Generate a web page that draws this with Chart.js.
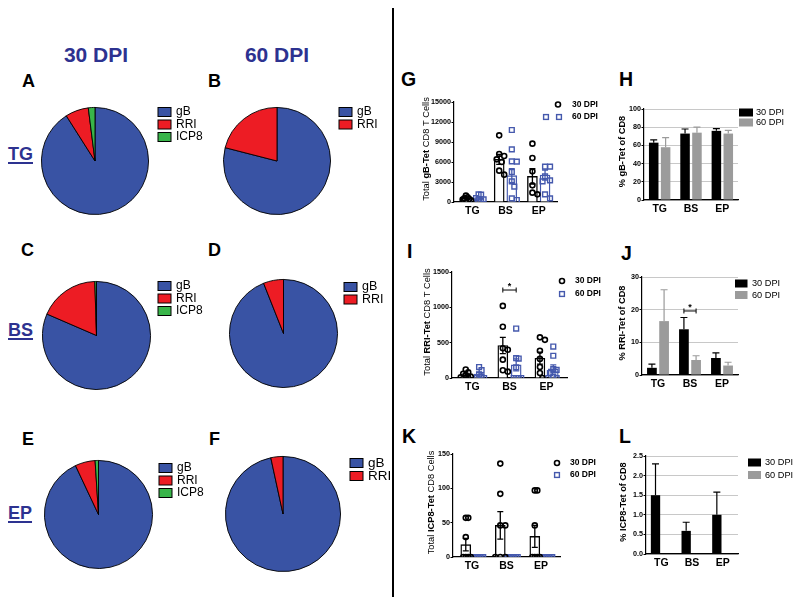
<!DOCTYPE html>
<html lang="en">
<head>
  <meta charset="UTF-8">
  <title>Tetramer+ CD8 T cells by site</title>
  <script src="https://cdn.jsdelivr.net/npm/chart.js"></script>
  <style>
    html, body { margin: 0; padding: 0; overflow: hidden; }
    body {
      position: relative;
      width: 800px;
      height: 606px;
      background: #fff;
      font-family: "Liberation Sans", Arial, sans-serif;
    }
    canvas { position: absolute; }
    .txt { position: absolute; font-weight: bold; line-height: 1; white-space: nowrap; color: #000; }
    .dpi { font-size: 21px; color: #2d3290; width: 100px; text-align: center; }
    .pl { font-size: 18px; }
    .ql { font-size: 19.5px; }
    .site {
      font-size: 18px;
      color: #2d3290;
      text-decoration: underline;
      text-decoration-thickness: 2px;
      text-underline-offset: 2px;
    }
    .divider { position: absolute; left: 392px; top: 8px; width: 2px; height: 589px; background: #000; }
  </style>
</head>
<body>
  <div class="divider"></div>

  <div class="txt dpi" style="left:46px; top:44px;">30 DPI</div>
  <div class="txt dpi" style="left:227px; top:44px;">60 DPI</div>

  <div class="txt pl" style="left:22px; top:72px;">A</div>
  <div class="txt pl" style="left:208px; top:72px;">B</div>
  <div class="txt pl" style="left:21px; top:241px;">C</div>
  <div class="txt pl" style="left:208px; top:241px;">D</div>
  <div class="txt pl" style="left:22px; top:430px;">E</div>
  <div class="txt pl" style="left:209px; top:430px;">F</div>

  <div class="txt site" style="left:8px; top:145px;">TG</div>
  <div class="txt site" style="left:8px; top:321px;">BS</div>
  <div class="txt site" style="left:8px; top:504px;">EP</div>

  <div class="txt ql" style="left:401px; top:70px;">G</div>
  <div class="txt ql" style="left:619px; top:70px;">H</div>
  <div class="txt ql" style="left:407px; top:242px;">I</div>
  <div class="txt ql" style="left:621px; top:244px;">J</div>
  <div class="txt ql" style="left:402px; top:427px;">K</div>
  <div class="txt ql" style="left:619px; top:427px;">L</div>

  <script>
    const FONT = '"Liberation Sans", Arial, Helvetica, sans-serif';

    const sites = ['TG', 'BS', 'EP'];
    const series = ['30 DPI', '60 DPI'];
    const epitopes3 = ['gB', 'RRI', 'ICP8'];
    const epitopes2 = ['gB', 'RRI'];

    // A-F: share of tetramer+ CD8 (%)
    const pieTG30 = [91, 7, 2];
    const pieTG60 = [79, 21];
    const pieBS30 = [81.5, 18, 0.5];
    const pieBS60 = [94, 6];
    const pieEP30 = [93, 6, 1];
    const pieEP60 = [96.6, 3.4];

    // G: total gB-Tet CD8 T cells, one list per site (TG, BS, EP)
    const gbDots30 = [[950, 700, 550, 450, 350, 250], [10000, 7200, 6900, 6400, 6000, 4700, 4100], [8750, 6600, 4600, 2500, 1400, 1150]];
    const gbDots60 = [[1150, 1100, 600, 400, 250, 150, 100], [10800, 7900, 6100, 6050, 4500, 3100, 2300, 550, 300], [5300, 5300, 3850, 3250, 3100, 1150, 550]];
    const gbMean30 = [600, 6400, 3850];
    const gbSem30 = [130, 750, 1150];
    const gbMean60 = [480, 3950, 4050];
    const gbSem60 = [160, 1050, 750];

    // I: total RRI-Tet CD8 T cells
    const rriDots30 = [[120, 80, 60, 40, 20, 10, 0], [1020, 725, 420, 400, 260, 110, 90], [575, 540, 385, 270, 155, 70, 0]];
    const rriDots60 = [[155, 110, 50, 25, 0, 0], [700, 280, 275, 150, 0, 0, 0, 0], [445, 315, 125, 115, 70, 20, 0, 0]];
    const rriMean30 = [50, 460, 280];
    const rriSem30 = [15, 115, 85];
    const rriMean60 = [55, 185, 130];
    const rriSem60 = [25, 85, 55];

    // K: total ICP8-Tet CD8 cells
    const icpDots30 = [[57, 57, 29, 0, 0, 0, 0], [136, 92, 46, 46, 0, 0, 0], [97, 97, 46, 0, 0, 0, 0]];
    const icpDots60 = [[0, 0, 0, 0, 0, 0, 0], [0, 0, 0, 0, 0, 0, 0], [0, 0, 0, 0, 0, 0, 0]];
    const icpMean30 = [18, 46, 30];
    const icpSem30 = [9, 20, 16];
    const icpMean60 = [0, 0, 0];
    const icpSem60 = [0, 0, 0];

    // H, J, L: % tetramer+ of CD8
    const gbPct30 = [63, 73, 76];
    const gbPctSem30 = [3, 5, 2.5];
    const gbPct60 = [58, 74, 73];
    const gbPctSem60 = [10.5, 6, 3.5];

    const rriPct30 = [2.2, 14, 5.2];
    const rriPctSem30 = [1.1, 3.6, 1.6];
    const rriPct60 = [16.5, 4.6, 2.9];
    const rriPctSem60 = [9.6, 1.3, 1.0];

    const icpPct30 = [1.5, 0.59, 1.0];
    const icpPctSem30 = [0.8, 0.22, 0.58];
    const icpPct60 = [0, 0, 0];
    const icpPctSem60 = [0, 0, 0];

    const PIE_COLORS = ['#3953a4', '#ed1c24', '#39b54a'];
    const DOT_BLUE = '#4559ad';
    const GRAY = '#9b9b9b';

    Chart.defaults.font.family = FONT;

    // legend drawn at page coordinates
    const markLegend = {
      id: 'markLegend',
      afterDraw(chart, args, opts) {
        const items = opts.items || [];
        if (!items.length) return;
        const ctx = chart.ctx;
        const ox = chart.canvas.offsetLeft, oy = chart.canvas.offsetTop;
        ctx.save();
        ctx.font = opts.font;
        ctx.textBaseline = 'middle';
        items.forEach(it => {
          const y = it.y - oy;
          it.xs.forEach(px => {
            const x = px - ox;
            ctx.lineWidth = it.lineWidth || 1;
            ctx.strokeStyle = it.stroke || it.color;
            ctx.fillStyle = it.color;
            if (it.marker === 'circle') {
              ctx.beginPath();
              ctx.arc(x, y, it.size, 0, 2 * Math.PI);
              ctx.stroke();
            } else if (it.marker === 'square') {
              ctx.strokeRect(x - it.size, y - it.size, it.size * 2, it.size * 2);
            } else {
              ctx.fillRect(x, y - it.h / 2, it.w, it.h);
              if (it.stroke) ctx.strokeRect(x, y - it.h / 2, it.w, it.h);
            }
          });
          ctx.fillStyle = '#000';
          ctx.fillText(it.label, opts.textX - ox, y);
        });
        ctx.restore();
      }
    };

    const errorBars = {
      id: 'errorBars',
      afterDatasetsDraw(chart, args, opts) {
        if (!opts.sets) return;
        const ctx = chart.ctx, ys = chart.scales.y;
        ctx.save();
        ctx.lineWidth = opts.lineWidth || 1.2;
        opts.sets.forEach(s => {
          const meta = chart.getDatasetMeta(s.ds);
          ctx.strokeStyle = s.color;
          meta.data.forEach((el, i) => {
            const v = meta.controller.getParsed(i).y, e = s.sem[i];
            if (!e) return;
            const top = ys.getPixelForValue(v + e);
            const bot = s.both ? ys.getPixelForValue(Math.max(0, v - e)) : el.y;
            ctx.beginPath();
            ctx.moveTo(el.x, bot);
            ctx.lineTo(el.x, top);
            ctx.moveTo(el.x - opts.cap, top);
            ctx.lineTo(el.x + opts.cap, top);
            if (s.both) {
              ctx.moveTo(el.x - opts.cap, bot);
              ctx.lineTo(el.x + opts.cap, bot);
            }
            ctx.stroke();
          });
        });
        ctx.restore();
      }
    };

    const sigBracket = {
      id: 'sigBracket',
      afterDatasetsDraw(chart, args, opts) {
        if (!opts.label) return;
        const ctx = chart.ctx;
        const x0 = chart.getDatasetMeta(opts.a).data[opts.index].x;
        const x1 = chart.getDatasetMeta(opts.b).data[opts.index].x;
        const y = chart.scales.y.getPixelForValue(opts.value);
        ctx.save();
        ctx.strokeStyle = '#000';
        ctx.lineWidth = 1;
        ctx.beginPath();
        ctx.moveTo(x0, y); ctx.lineTo(x1, y);
        ctx.moveTo(x0, y - 2.5); ctx.lineTo(x0, y + 2.5);
        ctx.moveTo(x1, y - 2.5); ctx.lineTo(x1, y + 2.5);
        ctx.stroke();
        ctx.fillStyle = '#000';
        ctx.font = 'bold 9px ' + FONT;
        ctx.textAlign = 'center';
        ctx.fillText(opts.label, (x0 + x1) / 2, y - 1);
        ctx.restore();
      }
    };

    // rotated y title with mixed weights
    const yTitle = {
      id: 'yTitle',
      afterDraw(chart, args, opts) {
        if (!opts.parts) return;
        const { ctx, chartArea: a } = chart;
        ctx.save();
        ctx.translate(a.left + opts.dx, (a.top + a.bottom) / 2 + (opts.dy || 0));
        ctx.rotate(-Math.PI / 2);
        ctx.textBaseline = 'middle';
        ctx.fillStyle = '#000';
        const fonts = opts.parts.map(p => (p[1] ? 'bold ' : '') + opts.size + 'px ' + FONT);
        const widths = opts.parts.map((p, i) => { ctx.font = fonts[i]; return ctx.measureText(p[0]).width; });
        let x = -widths.reduce((s, w) => s + w, 0) / 2;
        opts.parts.forEach((p, i) => {
          ctx.font = fonts[i];
          ctx.fillText(p[0], x, 0);
          x += widths[i];
        });
        ctx.restore();
      }
    };

    Chart.register(markLegend, errorBars, sigBracket, yTitle);

    function pie(p) {
      const R = p.r + 1;
      const c = document.createElement('canvas');
      c.width = 2 * R + 100;
      c.height = 2 * R + 10;
      c.style.left = Math.round(p.cx - R) + 'px';
      c.style.top = Math.round(p.cy - R - 10) + 'px';
      document.body.appendChild(c);
      new Chart(c, {
        type: 'pie',
        data: {
          labels: p.labels,
          datasets: [{
            data: p.values,
            backgroundColor: PIE_COLORS.slice(0, p.values.length),
            borderColor: '#000',
            borderWidth: 0.9
          }]
        },
        options: {
          responsive: false,
          animation: false,
          events: [],
          layout: { padding: { right: 100, top: 10 } },
          plugins: {
            legend: { display: false },
            tooltip: { enabled: false },
            markLegend: {
              font: p.font + 'px ' + FONT,
              textX: p.lx + 18,
              items: p.labels.map((l, i) => ({
                label: l, marker: 'box', color: PIE_COLORS[i], stroke: '#000',
                w: 13, h: 9, xs: [p.lx], y: p.ly + i * p.gap
              }))
            }
          }
        }
      });
    }

    pie({ values: pieTG30, labels: epitopes3, cx: 95, cy: 161, r: 53, lx: 158, ly: 112, gap: 12.5, font: 12 });
    pie({ values: pieTG60, labels: epitopes2, cx: 277, cy: 161, r: 53, lx: 339, ly: 112, gap: 12.5, font: 12 });
    pie({ values: pieBS30, labels: epitopes3, cx: 96, cy: 335, r: 53.5, lx: 158, ly: 286, gap: 12.5, font: 12 });
    pie({ values: pieBS60, labels: epitopes2, cx: 283, cy: 333, r: 53.5, lx: 344, ly: 287, gap: 12.5, font: 12.5 });
    pie({ values: pieEP30, labels: epitopes3, cx: 98, cy: 514, r: 53.5, lx: 159, ly: 468, gap: 12.5, font: 12 });
    pie({ values: pieEP60, labels: epitopes2, cx: 283, cy: 514, r: 57, lx: 350, ly: 463, gap: 13, font: 13.5 });

    const PAD = { l: 70, t: 25, r: 75, b: 30 };
    const Y_W = 30, X_H = 16;

    function place(box) {
      const c = document.createElement('canvas');
      c.width = box.r - box.l + PAD.l + PAD.r;
      c.height = box.b - box.t + PAD.t + PAD.b;
      c.style.left = (box.l - PAD.l) + 'px';
      c.style.top = (box.t - PAD.t) + 'px';
      document.body.appendChild(c);
      return c;
    }

    const layoutPad = { left: PAD.l - Y_W, top: PAD.t, right: PAD.r, bottom: PAD.b - X_H };

    function yAxis(max, step, fmt, grid) {
      return {
        min: 0,
        max: max,
        afterFit: s => { s.width = Y_W; },
        border: { color: '#000', width: 1.2 },
        grid: { drawOnChartArea: grid, color: '#c8c8c8', tickColor: '#000', tickLength: 2.5, lineWidth: 1 },
        ticks: { stepSize: step, color: '#000', padding: 0.5, font: { size: 7.2, weight: 'bold' }, callback: fmt }
      };
    }

    const xTicks = { color: '#000', padding: 3, maxRotation: 0, autoSkip: false, font: { size: 10.5, weight: 'bold' } };

    // simple beeswarm: horizontal pixel offsets for points at pixel heights pys
    function swarm(pys, dot, maxOff) {
      const placed = [];
      const offs = pys.map(py => {
        for (let k = 0; ; k++) {
          const dx = (k % 2 ? 1 : -1) * Math.ceil(k / 2) * dot * 0.5;
          if (placed.every(q => Math.hypot(q.dx - dx, q.py - py) >= dot)) {
            placed.push({ dx, py });
            return dx;
          }
        }
      });
      const m = Math.max(...offs.map(Math.abs));
      return m > maxOff ? offs.map(o => o * maxOff / m) : offs;
    }

    function dotPanel(p) {
      const b = p.box, xMin = -0.55, xMax = 2.55;
      const pxX = (b.r - b.l) / (xMax - xMin), pxY = (b.b - b.t) / p.yMax;
      const spread = (lists, shift) => lists.flatMap((vals, i) =>
        swarm(vals.map(v => v * pxY), 5.5, 5).map((dx, k) => ({ x: i + shift + dx / pxX, y: vals[k] })));
      const bars = (means, shift) => means.map((m, i) => ({ x: i + shift, y: m }));

      new Chart(place(b), {
        type: 'bar',
        data: {
          datasets: [
            { label: series[0], data: bars(p.mean30, -p.off), backgroundColor: '#fff', borderColor: '#000',
              borderWidth: 1.4, barThickness: 10, grouped: false, order: 3 },
            { label: series[1], data: bars(p.mean60, p.off), backgroundColor: '#fff', borderColor: DOT_BLUE,
              borderWidth: 1.4, barThickness: 10, grouped: false, order: 3 },
            { type: 'scatter', label: series[0], data: spread(p.dots30, -p.off), pointStyle: 'circle',
              pointRadius: 2.5, pointBorderWidth: 1.6, pointBorderColor: '#000', borderColor: '#000',
              pointBackgroundColor: 'rgba(0,0,0,0)', showLine: false, order: 1 },
            { type: 'scatter', label: series[1], data: spread(p.dots60, p.off), pointStyle: 'rect',
              pointRadius: 3.4, pointBorderWidth: 1.4, pointBorderColor: DOT_BLUE, borderColor: DOT_BLUE,
              pointBackgroundColor: 'rgba(0,0,0,0)', showLine: false, order: 1 }
          ]
        },
        options: {
          responsive: false,
          animation: false,
          events: [],
          layout: { padding: layoutPad },
          scales: {
            x: {
              type: 'linear', min: xMin, max: xMax, offset: false,
              afterBuildTicks: s => { s.ticks = sites.map((_, i) => ({ value: i })); },
              afterFit: s => { s.height = X_H; },
              border: { color: '#000', width: 1.2 },
              grid: { drawOnChartArea: false, drawTicks: false, offset: false },
              ticks: Object.assign({ callback: v => sites[v] }, xTicks)
            },
            y: yAxis(p.yMax, p.step, v => String(v), false)
          },
          plugins: {
            legend: { display: false },
            tooltip: { enabled: false },
            errorBars: {
              cap: 3, lineWidth: 1.3,
              sets: [
                { ds: 0, sem: p.sem30, color: '#000', both: true },
                { ds: 1, sem: p.sem60, color: DOT_BLUE, both: true }
              ]
            },
            sigBracket: p.bracket || {},
            yTitle: { parts: p.title, dx: p.titleDx, dy: -3, size: 9.3 },
            markLegend: {
              font: 'bold 8.5px ' + FONT,
              textX: p.legend.textX,
              items: [
                { label: series[0], marker: 'circle', color: '#000', size: 2.5, lineWidth: 1.6, xs: p.legend.xs30, y: p.legend.y[0] },
                { label: series[1], marker: 'square', color: DOT_BLUE, size: 2.4, lineWidth: 1.4, xs: p.legend.xs60, y: p.legend.y[1] }
              ]
            }
          }
        }
      });
    }

    function pctPanel(p) {
      new Chart(place(p.box), {
        type: 'bar',
        data: {
          labels: sites,
          datasets: [
            { label: series[0], data: p.pct30, backgroundColor: '#000' },
            { label: series[1], data: p.pct60, backgroundColor: GRAY }
          ]
        },
        options: {
          responsive: false,
          animation: false,
          events: [],
          layout: { padding: layoutPad },
          datasets: { bar: { categoryPercentage: 0.76, barPercentage: 0.8 } },
          scales: {
            x: {
              afterFit: s => { s.height = X_H; },
              border: { color: '#000', width: 1.2 },
              grid: { drawOnChartArea: false, drawTicks: false },
              ticks: xTicks
            },
            y: yAxis(p.yMax, p.step, p.fmt, true)
          },
          plugins: {
            legend: { display: false },
            tooltip: { enabled: false },
            errorBars: {
              cap: 3.5, lineWidth: 1.2,
              sets: [
                { ds: 0, sem: p.sem30, color: '#000', both: false },
                { ds: 1, sem: p.sem60, color: GRAY, both: false }
              ]
            },
            sigBracket: p.bracket || {},
            yTitle: { parts: p.title, dx: p.titleDx, dy: -3, size: 9.2 },
            markLegend: {
              font: '9.2px ' + FONT,
              textX: p.legend.textX,
              items: [
                { label: series[0], marker: 'box', color: '#000', w: p.legend.w, h: 8, xs: [p.legend.x], y: p.legend.y[0] },
                { label: series[1], marker: 'box', color: GRAY, w: p.legend.w, h: 8, xs: [p.legend.x], y: p.legend.y[1] }
              ]
            }
          }
        }
      });
    }

    dotPanel({
      box: { l: 454, r: 557, t: 102, b: 202 }, yMax: 15000, step: 3000, off: 0.19,
      dots30: gbDots30, dots60: gbDots60, mean30: gbMean30, sem30: gbSem30, mean60: gbMean60, sem60: gbSem60,
      title: [['Total ', false], ['gB-Tet', true], [' CD8 T Cells', false]], titleDx: -28,
      legend: { textX: 572, xs30: [558], xs60: [546, 559], y: [104.5, 117] }
    });

    dotPanel({
      box: { l: 452, r: 567, t: 272, b: 378 }, yMax: 1500, step: 500, off: 0.18,
      dots30: rriDots30, dots60: rriDots60, mean30: rriMean30, sem30: rriSem30, mean60: rriMean60, sem60: rriSem60,
      title: [['Total ', false], ['RRI-Tet', true], [' CD8 T Cells', false]], titleDx: -25,
      legend: { textX: 575, xs30: [562], xs60: [562], y: [281, 294] },
      bracket: { a: 0, b: 1, index: 1, value: 1245, label: '*' }
    });

    dotPanel({
      box: { l: 453, r: 560, t: 454, b: 557 }, yMax: 150, step: 50, off: 0.18,
      dots30: icpDots30, dots60: icpDots60, mean30: icpMean30, sem30: icpSem30, mean60: icpMean60, sem60: icpSem60,
      title: [['Total ', false], ['ICP8-Tet', true], [' CD8 Cells', false]], titleDx: -22,
      legend: { textX: 570, xs30: [557], xs60: [557], y: [463, 475] }
    });

    pctPanel({
      box: { l: 644, r: 738, t: 109, b: 200 }, yMax: 100, step: 20, fmt: v => String(v),
      pct30: gbPct30, sem30: gbPctSem30, pct60: gbPct60, sem60: gbPctSem60,
      title: [['% gB-Tet of CD8', true]], titleDx: -22,
      legend: { x: 739, w: 14, textX: 756, y: [112.5, 122.5] }
    });

    pctPanel({
      box: { l: 642, r: 738, t: 277, b: 375 }, yMax: 30, step: 10, fmt: v => String(v),
      pct30: rriPct30, sem30: rriPctSem30, pct60: rriPct60, sem60: rriPctSem60,
      title: [['% RRI-Tet of CD8', true]], titleDx: -20,
      legend: { x: 735, w: 12.5, textX: 752, y: [283.5, 295] },
      bracket: { a: 0, b: 1, index: 1, value: 19.6, label: '*' }
    });

    pctPanel({
      box: { l: 646, r: 738, t: 456, b: 554 }, yMax: 2.5, step: 0.5, fmt: v => v.toFixed(1),
      pct30: icpPct30, sem30: icpPctSem30, pct60: icpPct60, sem60: icpPctSem60,
      title: [['% ICP8-Tet of CD8', true]], titleDx: -23,
      legend: { x: 748, w: 13, textX: 765, y: [462.5, 475] }
    });
  </script>
</body>
</html>
